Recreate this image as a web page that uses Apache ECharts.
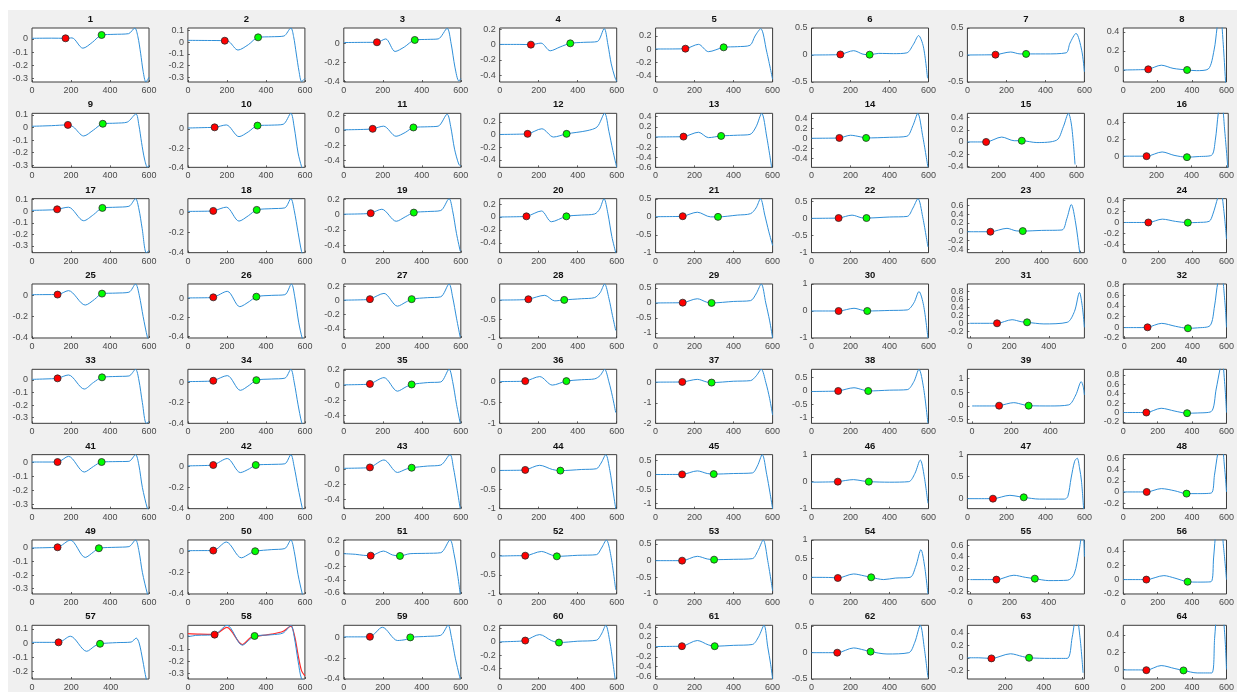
<!DOCTYPE html>
<html>
<head>
<meta charset="utf-8">
<script src="https://cdn.jsdelivr.net/npm/echarts@6/dist/echarts.min.js"></script>
<style>
  html, body { margin: 0; padding: 0; background: #ffffff; }
  #wrap { position: relative; width: 1237px; height: 692px; overflow: hidden; }
  #figbg { position: absolute; left: 8px; top: 10px; right: 0; bottom: 0; background: #f0f0f0; }
  #chart { position: absolute; left: 0; top: 0; width: 1237px; height: 692px; }
</style>
</head>
<body>
<div id="wrap"><div id="figbg"></div><div id="chart"></div></div>
<script>
// Panel titles, one per subplot (8 x 8 layout, row-major)
const panelTitles = ['1','2','3','4','5','6','7','8','9','10','11','12','13','14','15','16',
  '17','18','19','20','21','22','23','24','25','26','27','28','29','30','31','32',
  '33','34','35','36','37','38','39','40','41','42','43','44','45','46','47','48',
  '49','50','51','52','53','54','55','56','57','58','59','60','61','62','63','64'];

// Candidate x tick values shared by every panel
const xTickValues = [0, 200, 400, 600];

// x limits of each panel
const xLimits = [
  [0,600],[0,600],[0,600],[0,600],[0,600],[0,600],[0,600],[0,600],
  [0,600],[0,600],[0,600],[0,600],[0,600],[0,600],[40,640],[10,610],
  [0,600],[0,600],[0,600],[0,600],[0,600],[0,600],[20,620],[-6,600],
  [0,600],[0,600],[0,600],[0,600],[0,600],[0,600],[-12,580],[-5,600],
  [0,600],[0,600],[0,600],[0,600],[0,600],[0,600],[-24,574],[0,600],
  [0,600],[0,600],[0,600],[0,600],[0,600],[0,600],[0,600],[0,600],
  [0,600],[0,600],[0,600],[0,600],[0,600],[0,600],[-15,582],[0,600],
  [0,595],[0,600],[0,600],[0,600],[0,600],[0,600],[3,612],[0,600]
];

// y limits of each panel
const yLimits = [
  [-0.326,0.083],[-0.34,0.123],[-0.405,0.159],[-0.487,0.217],[-0.49,0.32],[-0.5,0.5],[-0.5,0.5],[-0.126,0.44],
  [-0.316,0.113],[-0.4,0.163],[-0.489,0.222],[-0.517,0.333],[-0.6,0.467],[-0.573,0.493],[-0.417,0.47],[-0.133,0.51],
  [-0.358,0.109],[-0.4,0.134],[-0.5,0.209],[-0.55,0.283],[-1,0.509],[-1,0.575],[-0.477,0.754],[-0.545,0.43],
  [-0.4,0.105],[-0.418,0.156],[-0.53,0.233],[-1,0.43],[-1.17,0.633],[-1,1],[-0.367,0.983],[-0.2,0.812],
  [-0.345,0.085],[-0.4,0.124],[-0.5,0.209],[-1,0.3],[-2,0.63],[-1.21,0.81],[-0.63,1.33],[-0.23,0.92],
  [-0.333,0.055],[-0.4,0.115],[-0.52,0.19],[-1,0.42],[-1.17,0.69],[-1,1],[-0.227,1],[-0.3,0.67],
  [-0.34,0.059],[-0.4,0.105],[-0.618,0.21],[-1,0.41],[-1,0.62],[-0.446,1],[-0.25,0.69],[-0.2,0.55],
  [-0.253,0.125],[-0.346,0.092],[-0.4,0.116],[-0.56,0.25],[-0.647,0.433],[-0.5,0.52],[-0.34,0.52],[-0.11,0.51]
];

// y tick labels of each panel
const yTicks = [
  [-0.3,-0.2,-0.1,0],[-0.3,-0.2,-0.1,0,0.1],[-0.4,-0.2,0],[-0.4,-0.2,0,0.2],[-0.4,-0.2,0,0.2],[-0.5,0,0.5],[-0.5,0,0.5],[0,0.2,0.4],
  [-0.3,-0.2,-0.1,0,0.1],[-0.4,-0.2,0],[-0.4,-0.2,0,0.2],[-0.4,-0.2,0,0.2],[-0.6,-0.4,-0.2,0,0.2,0.4],[-0.4,-0.2,0,0.2,0.4],[-0.4,-0.2,0,0.2,0.4],[0,0.2,0.4],
  [-0.3,-0.2,-0.1,0,0.1],[-0.4,-0.2,0],[-0.4,-0.2,0,0.2],[-0.4,-0.2,0,0.2],[-1,-0.5,0,0.5],[-1,-0.5,0,0.5],[-0.4,-0.2,0,0.2,0.4,0.6],[-0.4,-0.2,0,0.2,0.4],
  [-0.4,-0.2,0],[-0.4,-0.2,0],[-0.4,-0.2,0,0.2],[-1,-0.5,0],[-1,-0.5,0,0.5],[-1,0,1],[-0.2,0,0.2,0.4,0.6,0.8],[-0.2,0,0.2,0.4,0.6,0.8],
  [-0.3,-0.2,-0.1,0],[-0.4,-0.2,0],[-0.4,-0.2,0,0.2],[-1,-0.5,0],[-2,-1,0],[-1,-0.5,0,0.5],[-0.5,0,0.5,1],[-0.2,0,0.2,0.4,0.6,0.8],
  [-0.3,-0.2,-0.1,0],[-0.4,-0.2,0],[-0.4,-0.2,0],[-1,-0.5,0],[-1,-0.5,0,0.5],[-1,0,1],[0,0.5,1],[-0.2,0,0.2,0.4,0.6],
  [-0.3,-0.2,-0.1,0],[-0.4,-0.2,0],[-0.6,-0.4,-0.2,0,0.2],[-1,-0.5,0],[-1,-0.5,0,0.5],[0,0.5,1],[-0.2,0,0.2,0.4,0.6],[-0.2,0,0.2,0.4],
  [-0.2,-0.1,0,0.1],[-0.3,-0.2,-0.1,0],[-0.4,-0.2,0],[-0.4,-0.2,0,0.2],[-0.6,-0.4,-0.2,0,0.2,0.4],[-0.5,0,0.5],[-0.2,0,0.2,0.4],[0,0.2,0.4]
];

// Red marker (start point) of each panel
const redPoints = [
  [172,0.005],[189,0.014],[170,0.01],[160,0],[153,0.01],[148,0.01],[144,0.006],[145,0.007],
  [184,0.021],[137,0.017],[148,0.018],[143,0.01],[143,0.007],[143,0.007],[136,0],[143,0],
  [129,0.017],[130,0.013],[138,0.018],[137,0.01],[139,0.018],[139,0.01],[138,0],[141,0],
  [131,0.006],[130,0.014],[134,0.019],[147,0.026],[139,0.01],[139,0],[138,0],[137,0],
  [131,0.013],[130,0.013],[134,0.017],[131,0.016],[137,0.016],[137,0],[138,0.01],[134,0],
  [131,0.002],[130,0.016],[134,0.022],[131,0.018],[136,0.01],[135,0],[131,0],[136,0],
  [131,0.005],[130,0.006],[138,-0.03],[131,0],[136,0],[135,-0.018],[133,0],[134,0],
  [135,0.005],[137,0.016],[134,0.006],[131,0.02],[135,0.013],[132,0],[128,-0.01],[134,-0.008]
];

// Green marker (end point) of each panel
const greenPoints = [
  [357,0.03],[360,0.043],[364,0.034],[362,0.017],[349,0.03],[298,0.006],[301,0.02],[371,0],
  [363,0.03],[357,0.035],[357,0.036],[343,0.01],[336,0.02],[280,0.007],[319,0.02],[374,-0.012],
  [361,0.029],[353,0.023],[359,0.026],[342,0.01],[320,0],[282,0.01],[304,0.015],[373,-0.003],
  [359,0.015],[351,0.021],[348,0.019],[331,0.009],[287,0],[286,0],[290,0.025],[374,-0.018],
  [359,0.021],[351,0.019],[348,0.01],[342,0.016],[287,-0.016],[291,0],[289,0.01],[371,-0.014],
  [357,0.002],[348,0.016],[348,0.018],[311,0],[298,0.02],[294,0],[289,0.03],[368,-0.03],
  [343,-0.002],[345,0],[288,-0.035],[293,-0.017],[300,0.03],[306,0],[329,0.017],[374,-0.03],
  [346,-0.005],[342,0.005],[341,0],[304,-0.01],[303,0.013],[303,0.02],[324,0],[350,-0.011]
];

// Measured curve of each panel, [x, y] pairs
const curves = [
  /* 1 */ [[0,0.005],[100,0.006],[172,0.005],[205,0.008],[261,-0.07],[310,-0.025],[357,0.03],[420,0.035],[495,0.04],[527,0.083],[543,0.017],[557,-0.108],[570,-0.245],[584,-0.326],[600,-0.29]],
  /* 2 */ [[0,0.017],[100,0.016],[189,0.014],[212,0.005],[257,-0.066],[310,-0.02],[360,0.043],[430,0.048],[492,0.054],[528,0.123],[542,0.05],[556,-0.1],[570,-0.25],[583,-0.335],[600,-0.31]],
  /* 3 */ [[0,0.007],[100,0.009],[170,0.01],[215,0.045],[263,-0.086],[310,-0.04],[364,0.034],[430,0.04],[484,0.045],[530,0.155],[550,0],[570,-0.25],[590,-0.395],[600,-0.37]],
  /* 4 */ [[0,0.003],[100,0.003],[160,0],[212,0.02],[259,-0.08],[310,-0.03],[362,0.017],[430,0.03],[500,0.04],[536,0.21],[555,0],[572,-0.25],[590,-0.42],[600,-0.48]],
  /* 5 */ [[0,0.005],[100,0.006],[153,0.01],[220,0.075],[271,-0.035],[349,0.03],[420,0.04],[484,0.06],[510,0.2],[539,0.31],[569,-0.025],[600,-0.45]],
  /* 6 */ [[0,0],[100,0.003],[148,0.01],[216,0.08],[264,0.015],[298,0.006],[345,0.03],[420,0.025],[489,0.04],[523,0.2],[549,0.36],[574,0.15],[595,-0.43]],
  /* 7 */ [[0,0],[100,0.003],[144,0.006],[222,0.055],[270,0.02],[301,0.02],[400,0.02],[506,0.04],[526,0.22],[557,0.4],[586,0.09],[600,-0.31]],
  /* 8 */ [[0,0],[100,0.003],[145,0.007],[221,0.05],[289,0.017],[371,0],[426,-0.007],[494,0.01],[528,0.21],[545,0.44],[562,0.65],[580,0.3],[600,-0.3]],
  /* 9 */ [[0,0.01],[100,0.015],[184,0.021],[212,0.005],[265,-0.067],[315,-0.02],[363,0.03],[430,0.035],[488,0.043],[533,0.108],[548,0.02],[562,-0.12],[577,-0.25],[592,-0.316],[600,-0.3]],
  /* 10 */ [[0,0.01],[100,0.015],[137,0.017],[197,0.042],[262,-0.08],[310,-0.03],[357,0.035],[430,0.04],[489,0.049],[528,0.163],[545,0.02],[565,-0.25],[583,-0.393],[595,-0.45]],
  /* 11 */ [[0,0.005],[100,0.01],[148,0.018],[204,0.053],[268,-0.08],[315,-0.03],[357,0.036],[430,0.045],[484,0.053],[530,0.21],[548,0.05],[568,-0.25],[590,-0.45],[600,-0.47]],
  /* 12 */ [[0,0],[100,0.005],[143,0.01],[216,0.09],[276,-0.04],[343,0.01],[448,0.06],[500,0.12],[538,0.333],[560,0.05],[580,-0.25],[600,-0.517]],
  /* 13 */ [[0,0],[100,0.003],[143,0.007],[220,0.093],[271,-0.013],[336,0.02],[420,0.035],[484,0.05],[515,0.2],[544,0.467],[570,0],[595,-0.6]],
  /* 14 */ [[0,0],[100,0.003],[143,0.007],[200,0.06],[250,0.03],[280,0.007],[400,0.02],[489,0.04],[520,0.25],[545,0.49],[570,0.05],[597,-0.57]],
  /* 15 */ [[40,0],[100,0],[136,0],[216,0.08],[280,0.02],[319,0.02],[396,-0.01],[498,0.03],[532,0.25],[558,0.47],[575,0.25],[592,-0.37]],
  /* 16 */ [[10,0],[100,0],[143,0],[232,0.05],[300,0.01],[374,-0.012],[437,-0.005],[514,0.01],[536,0.19],[553,0.51],[570,0.7],[590,0.3],[610,-0.2]],
  /* 17 */ [[0,0.008],[100,0.012],[129,0.017],[187,0.035],[265,-0.082],[315,-0.03],[361,0.029],[430,0.035],[497,0.043],[531,0.109],[548,0.02],[565,-0.15],[586,-0.358],[600,-0.34]],
  /* 18 */ [[0,0.008],[100,0.01],[130,0.013],[197,0.05],[262,-0.088],[310,-0.035],[353,0.023],[430,0.035],[497,0.043],[528,0.134],[545,0.02],[565,-0.2],[583,-0.39],[595,-0.45]],
  /* 19 */ [[0,0.005],[100,0.01],[138,0.018],[195,0.07],[269,-0.088],[315,-0.03],[359,0.026],[430,0.04],[497,0.053],[540,0.209],[558,0.05],[578,-0.25],[597,-0.48]],
  /* 20 */ [[0,0],[100,0.005],[137,0.01],[214,0.093],[265,-0.073],[342,0.01],[420,0.03],[487,0.047],[512,0.12],[535,0.283],[555,0.05],[575,-0.3],[595,-0.55]],
  /* 21 */ [[0,0.005],[100,0.01],[139,0.018],[214,0.13],[282,0],[320,0],[420,0.05],[487,0.09],[515,0.25],[538,0.509],[560,0.05],[580,-0.4],[600,-0.8]],
  /* 22 */ [[0,0],[100,0.005],[139,0.01],[208,0.094],[255,0.02],[282,0.01],[400,0.04],[491,0.057],[520,0.3],[546,0.575],[570,0.05],[597,-0.83]],
  /* 23 */ [[20,0],[100,0],[138,0],[223,0.077],[270,0.02],[304,0.015],[400,0.03],[505,0.04],[530,0.3],[553,0.62],[575,0.2],[596,-0.477],[600,-0.55]],
  /* 24 */ [[0,0],[100,0],[141,0],[223,0.06],[300,0.02],[373,-0.003],[430,0],[498,0.02],[520,0.15],[549,0.45],[565,0.6],[585,0.2],[600,-0.3]],
  /* 25 */ [[0,0.005],[100,0.006],[131,0.006],[187,0.043],[273,-0.092],[320,-0.04],[359,0.015],[430,0.02],[497,0.028],[531,0.105],[550,0],[570,-0.2],[592,-0.394],[600,-0.42]],
  /* 26 */ [[0,0.008],[100,0.01],[130,0.014],[202,0.078],[266,-0.085],[315,-0.03],[351,0.021],[430,0.035],[497,0.042],[531,0.156],[548,0.02],[568,-0.25],[586,-0.418],[595,-0.45]],
  /* 27 */ [[0,0.005],[100,0.01],[134,0.019],[206,0.1],[275,-0.08],[320,-0.02],[348,0.019],[430,0.04],[497,0.052],[540,0.233],[558,0.05],[578,-0.25],[597,-0.52]],
  /* 28 */ [[0,0.005],[100,0.01],[147,0.026],[231,0.13],[282,-0.017],[331,0.009],[420,0.04],[487,0.07],[515,0.2],[538,0.43],[560,0.05],[578,-0.4],[595,-0.8]],
  /* 29 */ [[0,0],[100,0.005],[139,0.01],[214,0.14],[260,0.03],[287,0],[400,0.05],[487,0.078],[515,0.3],[542,0.633],[565,0],[585,-0.6],[600,-1.17]],
  /* 30 */ [[0,0],[100,0],[139,0],[218,0.1],[260,0.03],[286,0],[400,0.02],[491,0.04],[525,0.3],[551,0.72],[575,0.2],[597,-1]],
  /* 31 */ [[0,0],[100,0],[138,0],[214,0.09],[260,0.04],[290,0.025],[375,-0.015],[493,0.025],[530,0.3],[555,0.77],[570,0.4],[580,-0.1]],
  /* 32 */ [[0,-0.005],[100,-0.005],[137,0],[220,0.074],[300,0.02],[374,-0.018],[430,-0.01],[503,0.03],[530,0.4],[550,0.85],[570,1.0],[590,0.5],[600,0]],
  /* 33 */ [[0,0.005],[100,0.01],[131,0.013],[187,0.04],[268,-0.072],[315,-0.02],[359,0.021],[430,0.028],[497,0.032],[531,0.085],[548,0],[566,-0.18],[586,-0.345],[600,-0.33]],
  /* 34 */ [[0,0.005],[100,0.008],[130,0.013],[202,0.063],[269,-0.08],[315,-0.03],[351,0.019],[430,0.03],[497,0.038],[528,0.124],[545,0],[565,-0.22],[583,-0.39],[595,-0.45]],
  /* 35 */ [[0,0.005],[100,0.01],[134,0.017],[206,0.1],[275,-0.078],[320,-0.02],[348,0.01],[430,0.035],[497,0.043],[540,0.209],[558,0.05],[578,-0.25],[597,-0.5]],
  /* 36 */ [[0,0.005],[100,0.01],[131,0.016],[205,0.125],[270,-0.08],[342,0.016],[420,0.05],[487,0.07],[515,0.15],[538,0.3],[560,0],[578,-0.35],[595,-0.74]],
  /* 37 */ [[0,0.005],[100,0.01],[137,0.016],[214,0.14],[260,0.02],[287,-0.016],[400,0.05],[487,0.08],[515,0.3],[542,0.63],[565,0],[585,-0.8],[600,-1.6]],
  /* 38 */ [[0,-0.02],[100,-0.01],[137,0],[218,0.12],[260,0.05],[291,0],[400,0.03],[491,0.05],[525,0.35],[551,0.81],[575,0.1],[597,-1.21]],
  /* 39 */ [[0,0],[100,0],[138,0.01],[213,0.12],[260,0.05],[289,0.01],[400,0],[494,0.04],[530,0.4],[558,0.88],[568,0.7],[574,0.4]],
  /* 40 */ [[0,0],[100,0],[134,0],[220,0.09],[300,0.03],[371,-0.014],[430,-0.01],[511,0.02],[540,0.5],[562,0.92],[575,1.1],[590,0.6],[600,0]],
  /* 41 */ [[0,0.002],[100,0.002],[131,0.002],[187,0.043],[268,-0.07],[315,-0.03],[357,0.002],[430,0.005],[497,0.007],[531,0.055],[548,-0.02],[566,-0.18],[592,-0.333],[600,-0.34]],
  /* 42 */ [[0,0.008],[100,0.012],[130,0.016],[202,0.078],[269,-0.056],[315,-0.02],[348,0.016],[430,0.022],[497,0.028],[528,0.115],[545,0],[565,-0.2],[586,-0.39],[595,-0.45]],
  /* 43 */ [[0,0.01],[100,0.015],[134,0.022],[206,0.12],[275,-0.044],[320,0],[348,0.018],[430,0.04],[497,0.053],[545,0.19],[562,0.02],[580,-0.25],[597,-0.52]],
  /* 44 */ [[0,0.005],[100,0.01],[131,0.018],[205,0.14],[270,0.03],[311,0],[420,0.03],[496,0.05],[520,0.2],[544,0.42],[565,0],[580,-0.5],[595,-1]],
  /* 45 */ [[0,0.005],[100,0.008],[136,0.01],[214,0.13],[265,0.04],[298,0.02],[400,0.04],[496,0.06],[522,0.3],[547,0.69],[570,0],[586,-0.6],[600,-1.17]],
  /* 46 */ [[0,-0.02],[100,-0.01],[135,0],[216,0.075],[260,0.03],[294,0],[400,-0.02],[499,0],[530,0.3],[558,0.8],[578,0.2],[597,-0.8]],
  /* 47 */ [[0,0],[100,0],[131,0],[218,0.076],[260,0.05],[289,0.03],[370,-0.01],[498,-0.01],[515,0.05],[532,0.47],[550,0.85],[563,0.92],[575,0.7],[585,0.4],[596,-0.23]],
  /* 48 */ [[0,0],[100,0],[136,0],[221,0.06],[300,0.02],[368,-0.03],[430,-0.03],[511,-0.02],[530,0.3],[550,0.7],[570,0.9],[590,0.4],[600,0]],
  /* 49 */ [[0,0],[100,0.003],[131,0.005],[197,0.058],[273,-0.07],[315,-0.03],[343,-0.002],[430,0.005],[497,0.01],[531,0.059],[548,-0.02],[566,-0.18],[592,-0.34],[600,-0.36]],
  /* 50 */ [[0,0.005],[100,0.006],[130,0.006],[197,0.086],[274,-0.062],[320,-0.02],[345,0],[430,0.015],[497,0.025],[528,0.105],[545,0],[565,-0.22],[586,-0.394],[595,-0.45]],
  /* 51 */ [[0,0],[60,-0.01],[100,-0.025],[138,-0.03],[203,0.04],[250,-0.02],[288,-0.035],[340,0],[420,0.005],[497,0.015],[545,0.21],[565,0],[585,-0.35],[597,-0.618]],
  /* 52 */ [[0,-0.01],[100,0],[131,0],[214,0.11],[265,0.02],[293,-0.017],[400,0.01],[496,0.026],[522,0.2],[547,0.41],[570,0],[595,-0.89]],
  /* 53 */ [[0,0],[100,0],[136,0],[214,0.13],[265,0.05],[300,0.03],[400,0.04],[496,0.06],[525,0.3],[552,0.62],[575,0],[600,-0.9]],
  /* 54 */ [[0,0],[100,-0.005],[135,-0.018],[216,0.09],[270,0.04],[306,0],[370,-0.06],[430,-0.02],[506,0],[535,0.3],[561,0.74],[580,0.3],[597,-0.446]],
  /* 55 */ [[0,0],[100,0],[133,0],[222,0.076],[280,0.04],[329,0.017],[400,-0.017],[497,-0.01],[530,0.1],[555,0.5],[570,0.75],[578,0.72],[582,0.4]],
  /* 56 */ [[0,0],[100,0],[134,0],[236,0.055],[300,0.02],[374,-0.03],[430,-0.035],[510,-0.03],[525,0.3],[540,0.7],[560,0.9],[585,0.4],[600,0]],
  /* 57 */ [[0,0.005],[100,0.005],[135,0.005],[195,0.048],[278,-0.058],[320,-0.02],[346,-0.005],[430,0.003],[504,0.007],[530,0.035],[545,0],[563,-0.12],[581,-0.253],[590,-0.28]],
  /* 58 */ [[0,0.008],[10,0.002],[40,0.01],[100,0.012],[137,0.016],[201,0.092],[279,-0.07],[320,-0.02],[342,0.005],[430,0.015],[489,0.03],[528,0.092],[545,0],[565,-0.2],[583,-0.346],[600,-0.36]],
  /* 59 */ [[0,0.005],[100,0.005],[134,0.006],[198,0.097],[275,-0.03],[320,-0.02],[341,0],[430,0.01],[497,0.02],[535,0.116],[552,0],[572,-0.2],[597,-0.4]],
  /* 60 */ [[0,0],[100,0.01],[131,0.02],[205,0.11],[265,0.02],[304,-0.01],[400,0.01],[496,0.025],[522,0.12],[544,0.25],[565,0],[580,-0.3],[592,-0.56]],
  /* 61 */ [[0,0.005],[100,0.01],[135,0.013],[214,0.127],[270,0.04],[303,0.013],[400,0.03],[496,0.047],[528,0.2],[556,0.433],[575,0],[590,-0.35],[600,-0.647]],
  /* 62 */ [[0,0],[100,0],[132,0],[216,0.09],[270,0.05],[303,0.02],[387,-0.025],[499,0],[530,0.2],[558,0.52],[578,0.1],[597,-0.47]],
  /* 63 */ [[3,0],[60,0],[128,-0.01],[227,0.064],[290,0.02],[324,0],[430,-0.01],[522,-0.01],[548,0.32],[570,0.7],[590,0.3],[605,-0.24]],
  /* 64 */ [[0,-0.005],[100,-0.005],[134,-0.008],[220,0.045],[300,0.01],[350,-0.011],[430,-0.04],[514,-0.04],[531,0.36],[545,0.7],[565,0.9],[590,0.4],[600,0]]
];

// Second (reference) trace drawn in panel 58
const overlayPanel = 58;
const overlayCurve = [[0,0.024],[60,0.02],[137,0.018],[200,0.075],[279,-0.065],[320,-0.01],[342,0],[430,0.02],[489,0.043],[528,0.085],[548,0],[565,-0.15],[583,-0.28],[600,-0.32]];

// ---- layout of the 8 x 8 subplot grid ----
const FONT = '"Liberation Sans", Arial, Helvetica, sans-serif';
const AXIS_COLOR = '#3c3c3c';
const LABEL_COLOR = '#4a4a4a';
const LINE_BLUE = '#2f8fd8';
const COL_X0 = 32, COL_STEP = 155.9;
const ROW_Y0 = 28, ROW_STEP = 85.33;
const BOX_W = 117, BOX_H = 54;

const grid = [], xAxis = [], yAxis = [], series = [], title = [];
const panelBoxes = [];

for (let i = 0; i < 64; i++) {
  const c = i % 8, r = Math.floor(i / 8);
  const left = COL_X0 + c * COL_STEP;
  const top = ROW_Y0 + r * ROW_STEP;
  panelBoxes.push({ left, top });
  const [x0, x1] = xLimits[i];
  const [y0, y1] = yLimits[i];
  const xt = xTickValues.filter(v => v >= x0 - 1e-9 && v <= x1 + 1e-9);
  const yt = yTicks[i].filter(v => v >= y0 - 1e-9 && v <= y1 + 1e-9);

  grid.push({
    left: left, top: top, width: BOX_W, height: BOX_H,
    show: true, backgroundColor: '#ffffff',
    borderColor: AXIS_COLOR, borderWidth: 1
  });

  title.push({
    text: panelTitles[i],
    left: left + BOX_W / 2,
    top: top - 14,
    textAlign: 'center',
    padding: 0,
    textStyle: { fontFamily: FONT, fontSize: 9.5, fontWeight: 'bold', color: '#111', lineHeight: 11 }
  });

  xAxis.push({
    type: 'value', gridIndex: i, min: x0, max: x1, position: 'bottom',
    axisLine: { show: false, onZero: false },
    splitLine: { show: false },
    axisTick: { show: true, inside: true, length: 2, customValues: xt, lineStyle: { color: AXIS_COLOR, width: 0.8 } },
    axisLabel: { customValues: xt, showMinLabel: true, showMaxLabel: true, hideOverlap: false,
                 fontFamily: FONT, fontSize: 9, color: LABEL_COLOR, margin: 4 }
  });

  // y tick labels are placed as text next to the axis (see below) so that
  // crowded ticks keep every label, as in the original figure
  yAxis.push({
    type: 'value', gridIndex: i, min: y0, max: y1, position: 'left',
    axisLine: { show: false, onZero: false },
    splitLine: { show: false },
    axisTick: { show: true, inside: true, length: 2, customValues: yt, lineStyle: { color: AXIS_COLOR, width: 0.8 } },
    axisLabel: { show: false }
  });

  if (i + 1 === overlayPanel) {
    series.push({
      type: 'line', xAxisIndex: i, yAxisIndex: i, data: overlayCurve,
      showSymbol: false, smooth: 0.3, clip: true, silent: true, z: 2,
      lineStyle: { color: '#ff2a2a', width: 1.2 }
    });
  }

  series.push({
    type: 'line', xAxisIndex: i, yAxisIndex: i, data: curves[i],
    showSymbol: false, smooth: 0.3, clip: true, silent: true, z: 3,
    lineStyle: { color: LINE_BLUE, width: 1 }
  });

  series.push({
    type: 'scatter', xAxisIndex: i, yAxisIndex: i, data: [redPoints[i]],
    symbol: 'circle', symbolSize: 7, z: 4, silent: true,
    itemStyle: { color: '#ff0000', borderColor: '#2a2a2a', borderWidth: 0.8, opacity: 1 }
  });

  series.push({
    type: 'scatter', xAxisIndex: i, yAxisIndex: i, data: [greenPoints[i]],
    symbol: 'circle', symbolSize: 7, z: 4, silent: true,
    itemStyle: { color: '#00ff00', borderColor: '#2a2a2a', borderWidth: 0.8, opacity: 1 }
  });
}

const chart = echarts.init(document.getElementById('chart'), null, { renderer: 'canvas' });
chart.setOption({
  animation: false,
  backgroundColor: 'transparent',
  title: title,
  grid: grid,
  xAxis: xAxis,
  yAxis: yAxis,
  series: series
});

// y tick labels, positioned through each panel's own y scale
const yLabelTexts = [];
for (let i = 0; i < 64; i++) {
  const [y0, y1] = yLimits[i];
  const yt = yTicks[i].filter(v => v >= y0 - 1e-9 && v <= y1 + 1e-9);
  yt.forEach(v => {
    const py = chart.convertToPixel({ yAxisIndex: i }, v);
    yLabelTexts.push({
      type: 'text', silent: true, z: 10,
      x: panelBoxes[i].left - 4, y: py,
      style: {
        text: String(v),
        fill: LABEL_COLOR,
        font: '9px ' + FONT,
        align: 'right', verticalAlign: 'middle',
        textAlign: 'right', textVerticalAlign: 'middle'
      }
    });
  });
}
chart.setOption({ graphic: { elements: yLabelTexts } });
</script>
</body>
</html>
